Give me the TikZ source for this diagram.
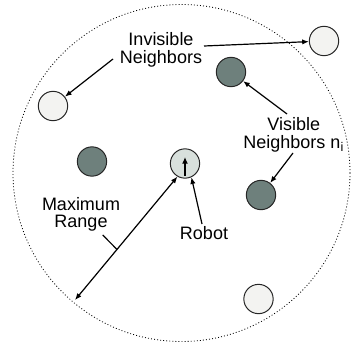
\documentclass[tikz,border=0pt]{standalone}
\usepackage{fontspec}
\setmainfont{Liberation Sans}
\usetikzlibrary{arrows.meta,calc}
\definecolor{darkn}{RGB}{110,128,124}
\definecolor{lightn}{RGB}{243,243,241}
\definecolor{robotc}{RGB}{216,224,220}
\begin{document}
\begin{tikzpicture}[x=0.75pt,y=-0.75pt,
 nb/.style={circle,draw=black!85,line width=0.75pt,minimum size=22pt,inner sep=0pt},
 visn/.style={nb,fill=darkn},
 invn/.style={nb,fill=lightn},
 robn/.style={nb,fill=robotc},
 lbl/.style={align=center,inner sep=0pt,font=\fontsize{13.5}{13}\selectfont},
 conn/.style={line width=0.9pt,-{Latex[length=5pt,width=4pt]}},
 rangecircle/.style={dash pattern=on 0.7pt off 1.6pt,line width=0.6pt}]
\useasboundingbox (0,0) rectangle (352,343);
\draw[rangecircle] (181.5,173) circle[radius=168.5];

\node[invn] (inv1) at (324,41) {};
\node[invn] (inv2) at (53,106) {};
\node[invn] (inv3) at (258.5,299) {};
\node[visn] (vis1) at (231,72) {};
\node[visn] (vis2) at (261,195) {};
\node[visn] (vis3) at (92,161.5) {};
\node[robn] (robot) at (185,163.5) {};
\draw[line width=1.5pt,-{Latex[length=5pt,width=4.5pt]}] (robot.center) ++(0,12) -- ++(0,-18.5);

\node[lbl] (invlbl) at (161,49.8) {Invisible\\Neighbors};
\node[lbl] (vislbl) at (293.7,135) {Visible\\Neighbors n\textsubscript{i}};
\node[lbl] (maxlbl) at (81,214.4) {Maximum\\Range};
\node[lbl,anchor=base] (roblbl) at (204,239) {Robot};

\coordinate (a1) at (113,59);
\coordinate (a2) at (204,46);
\coordinate (a3) at (287,114);
\coordinate (a4) at (293,153);
\coordinate (a5) at (202,224);
\coordinate (edge) at (75,300);
\coordinate (lead) at (102.7,235);

\draw[conn] (a1) -- (inv2);
\draw[conn] (a2) -- (inv1);
\draw[conn] (a3) -- (vis1);
\draw[conn] (a4) -- (vis2);
\draw[conn] (a5) -- (robot.295);
\draw[line width=0.9pt,{Latex[length=5pt,width=4pt]}-{Latex[length=5pt,width=4pt]}] (edge) -- (robot.240);
\draw[line width=0.9pt] (lead) -- ($(edge)!0.41!(robot.240)$);
\end{tikzpicture}
\end{document}
